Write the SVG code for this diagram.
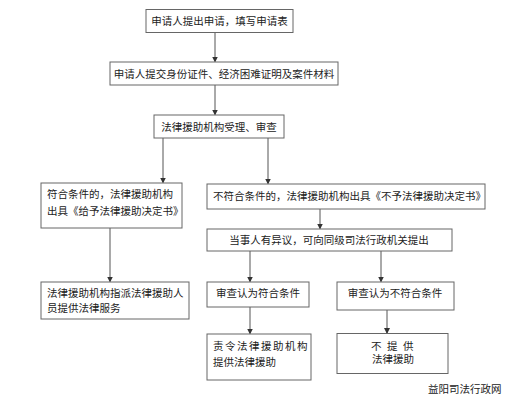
<svg xmlns="http://www.w3.org/2000/svg" width="510" height="400" viewBox="0 0 510 400">
<style>
.box{fill:#fff;stroke:#666;stroke-width:1}
.t{font-family:"Noto Sans CJK SC","Noto Sans",sans-serif;font-size:10.5px;fill:#222}
.c{text-anchor:middle}
.ln{stroke:#555;stroke-width:1;fill:none}
</style>
<defs>
<marker id="ah" markerWidth="6" markerHeight="6" refX="5" refY="3" orient="auto" markerUnits="userSpaceOnUse">
<path d="M0,0 L6,3 L0,6 Z" fill="#333"/>
</marker>
</defs>
<rect width="510" height="400" fill="#fff"/>
<g id="connectors">
<line class="ln" x1="215" y1="32" x2="215" y2="61.5" marker-end="url(#ah)"/>
<line class="ln" x1="215" y1="85" x2="215" y2="114.5" marker-end="url(#ah)"/>
<line class="ln" x1="163" y1="138" x2="163" y2="182.5" marker-end="url(#ah)"/>
<line class="ln" x1="268" y1="138" x2="268" y2="183.5" marker-end="url(#ah)"/>
<line class="ln" x1="320" y1="209" x2="320" y2="228.5" marker-end="url(#ah)"/>
<line class="ln" x1="110" y1="228" x2="110" y2="281.5" marker-end="url(#ah)"/>
<line class="ln" x1="250" y1="251" x2="250" y2="281.5" marker-end="url(#ah)"/>
<line class="ln" x1="381" y1="251" x2="381" y2="281.5" marker-end="url(#ah)"/>
<line class="ln" x1="250" y1="307" x2="250" y2="333.5" marker-end="url(#ah)"/>
<line class="ln" x1="387" y1="310" x2="387" y2="333" marker-end="url(#ah)"/>
</g>
<g id="n1"><rect class="box" x="146" y="9.5" width="147" height="23"/><text class="t c" x="219.5" y="24.5">申请人提出申请，填写申请表</text></g>
<g id="n2"><rect class="box" x="110" y="62" width="228" height="23"/><text class="t c" x="224" y="77.5">申请人提交身份证件、经济困难证明及案件材料</text></g>
<g id="n3"><rect class="box" x="154" y="115" width="130" height="23"/><text class="t c" x="219" y="130.5">法律援助机构受理、审查</text></g>
<g id="n4"><rect class="box" x="41" y="183" width="141" height="45"/><text class="t" x="47" y="198">符合条件的，法律援助机构</text><text class="t" x="47" y="214.5">出具《给予法律援助决定书》</text></g>
<g id="n5"><rect class="box" x="207" y="184" width="278" height="25"/><text class="t" x="213" y="199.5">不符合条件的，法律援助机构出具《不予法律援助决定书》</text></g>
<g id="n6"><rect class="box" x="207" y="229" width="245" height="22"/><text class="t c" x="329" y="243.5">当事人有异议，可向同级司法行政机关提出</text></g>
<g id="n7"><rect class="box" x="41" y="282" width="148" height="37"/><text class="t" x="47" y="297">法律援助机构指派法律援助人</text><text class="t" x="47" y="312">员提供法律服务</text></g>
<g id="n8"><rect class="box" x="207" y="282" width="102" height="25"/><text class="t c" x="258" y="297">审查认为符合条件</text></g>
<g id="n9"><rect class="box" x="337" y="282" width="117" height="28"/><text class="t c" x="395" y="297">审查认为不符合条件</text></g>
<g id="n10"><rect class="box" x="207" y="334" width="104" height="46"/><text class="t" x="213" y="350" letter-spacing="1.5">责令法律援助机构</text><text class="t" x="213" y="365.5">提供法律援助</text></g>
<g id="n11"><rect class="box" x="337" y="333.5" width="111" height="40"/><text class="t" x="371" y="349.5" letter-spacing="5.5">不提供</text><text class="t c" x="393" y="363">法律援助</text></g>
<text class="t" x="428" y="393" font-size="10">益阳司法行政网</text>
</svg>
